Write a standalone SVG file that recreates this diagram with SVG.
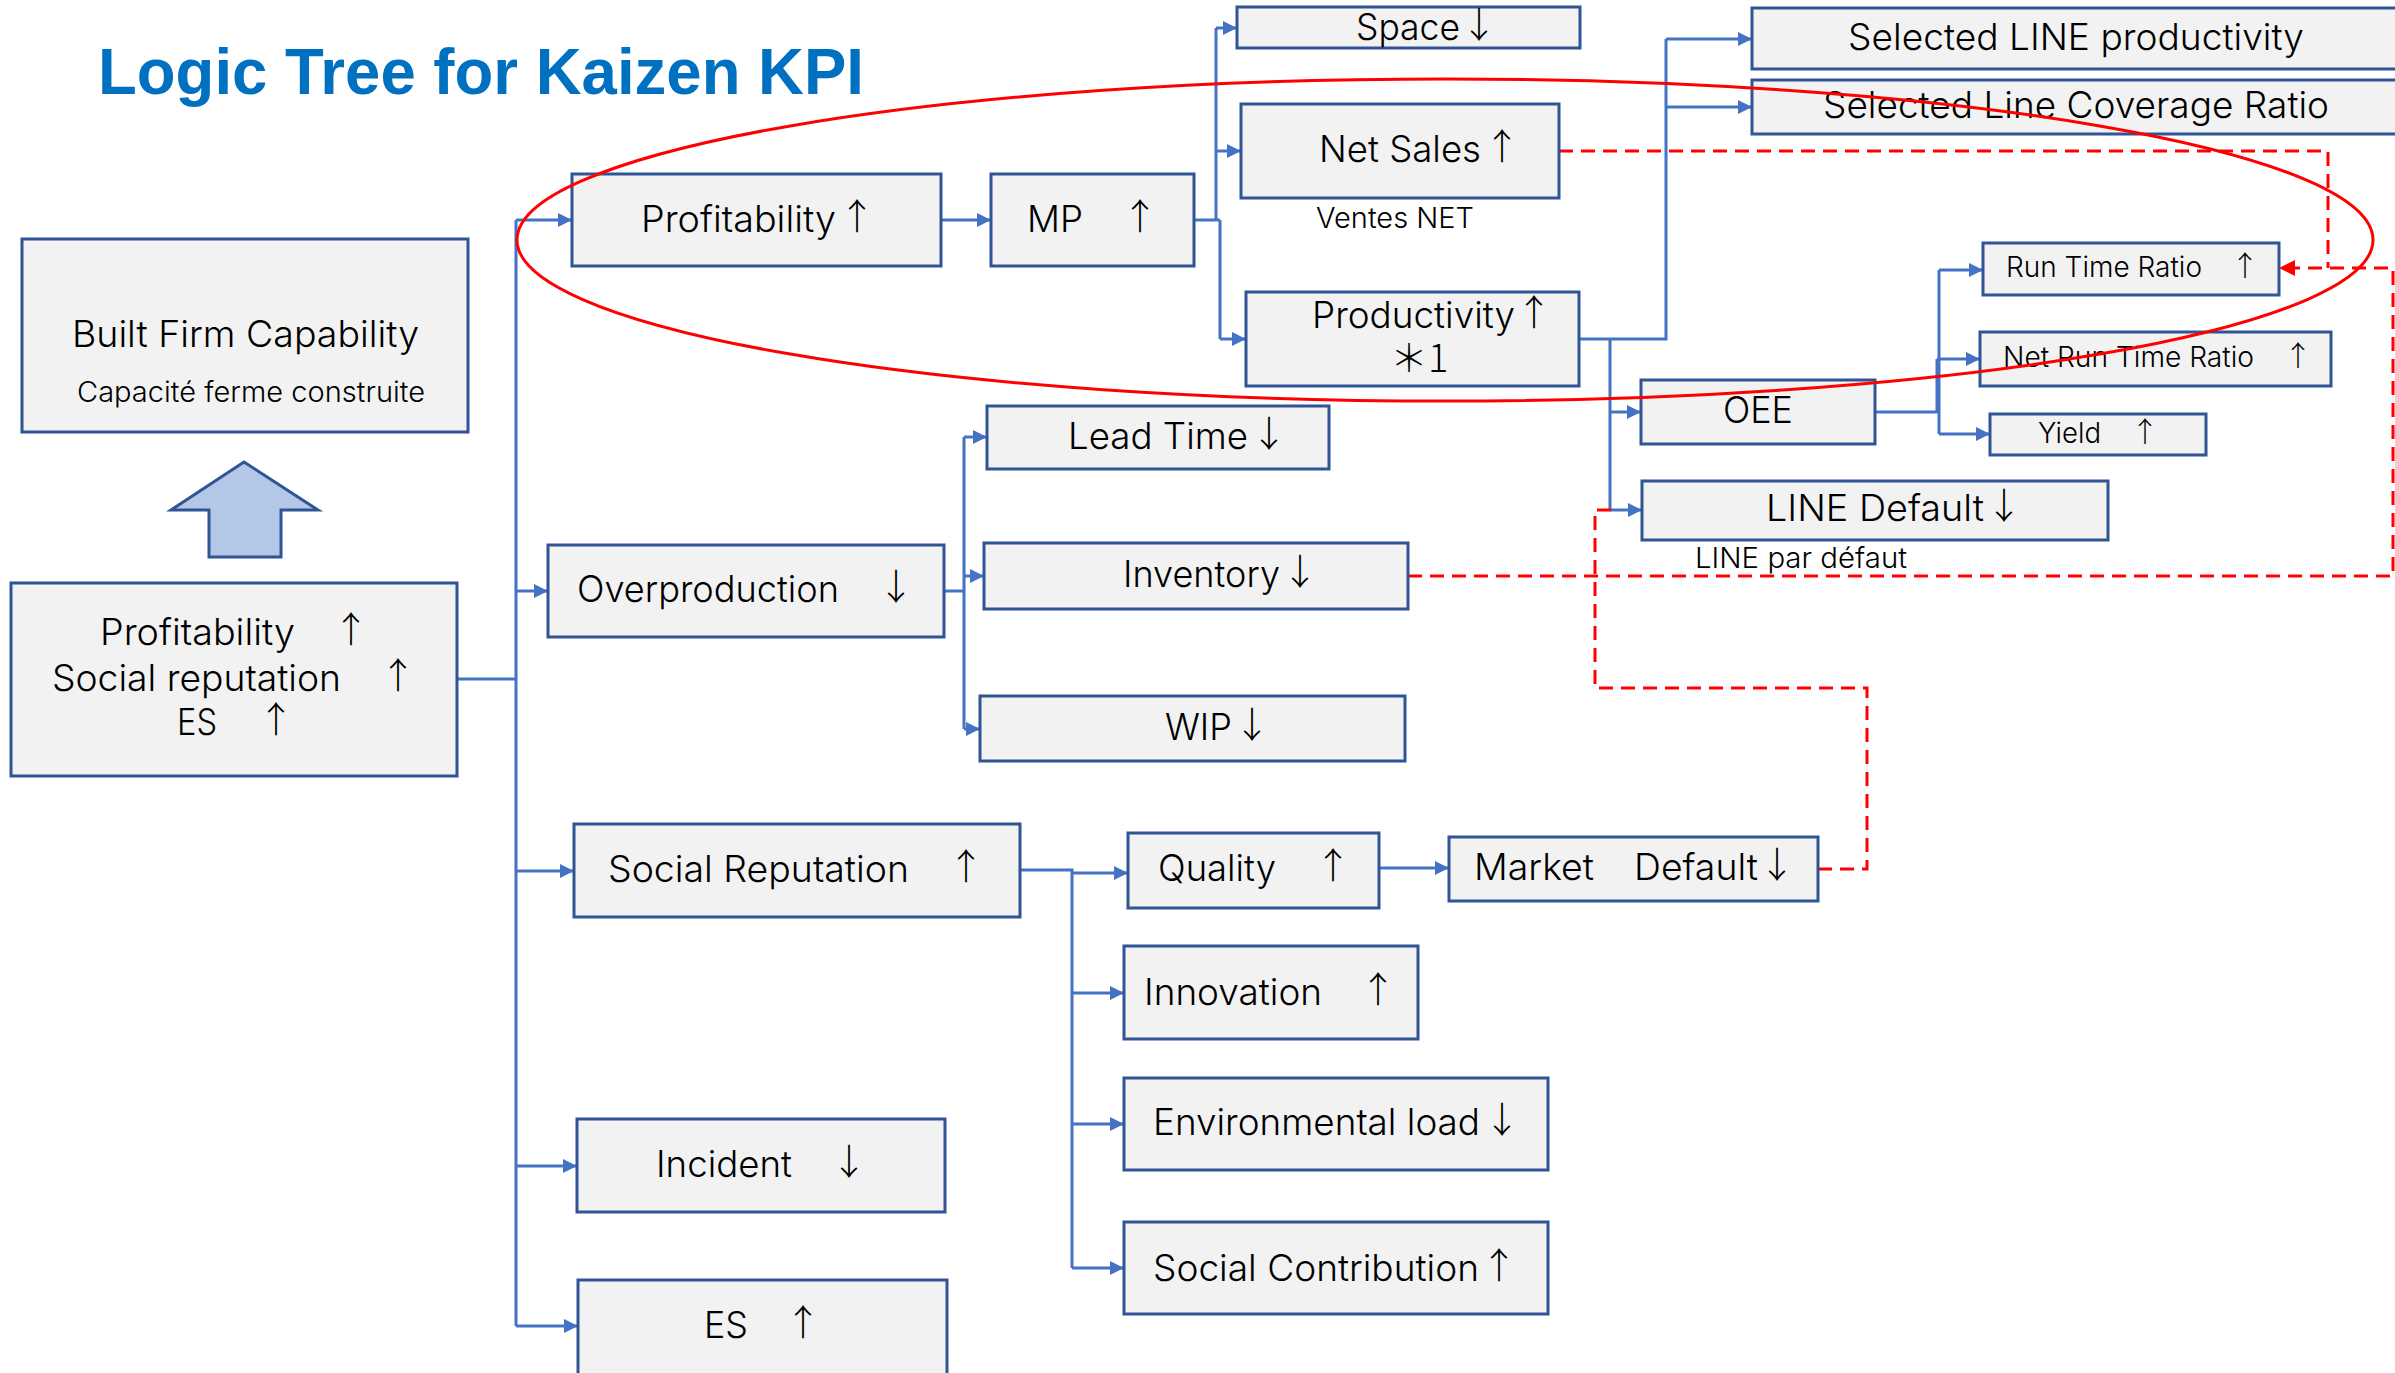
<svg xmlns="http://www.w3.org/2000/svg" width="2395" height="1373" viewBox="0 0 2395 1373">
<defs>
<marker id="ab" markerUnits="userSpaceOnUse" viewBox="0 0 14 14" refX="14" refY="7" markerWidth="14" markerHeight="14" orient="auto"><path d="M0,0L14,7L0,14z" fill="#4472C4"/></marker>
<marker id="arr" markerUnits="userSpaceOnUse" viewBox="0 0 16 16" refX="16" refY="8" markerWidth="16" markerHeight="16" orient="auto"><path d="M0,0L16,8L0,16z" fill="#FF0000"/></marker>
<style>
.box{fill:#F2F2F2;stroke:#2F5597;stroke-width:3}
.t{font-family:Inter,"Liberation Sans",Arial,sans-serif;font-weight:300;font-size:37px;fill:#000}
.s{font-family:Inter,"Liberation Sans",Arial,sans-serif;font-weight:300;font-size:28px;fill:#000}
.a{font-family:"Noto Sans CJK JP","DejaVu Sans",sans-serif;font-weight:300;font-size:36px;fill:#000;text-anchor:middle}
.as{font-family:"Noto Sans CJK JP","DejaVu Sans",sans-serif;font-weight:300;font-size:28px;fill:#000;text-anchor:middle}
.c{fill:none;stroke:#4472C4;stroke-width:3}
.ca{fill:none;stroke:#4472C4;stroke-width:3;marker-end:url(#ab)}
.d{fill:none;stroke:#FF0000;stroke-width:3;stroke-dasharray:14 8}
</style>
</defs>
<rect x="0" y="0" width="2395" height="1373" fill="#FFFFFF"/>
<text x="98" y="94" font-family="Liberation Sans, Arial, sans-serif" font-weight="bold" font-size="64" fill="#0070C0" textLength="766" lengthAdjust="spacingAndGlyphs">Logic Tree for Kaizen KPI</text>

<g id="connectors">
<path class="c" d="M457,679H516M516,220V1326"/>
<path class="ca" d="M516,220H572"/>
<path class="ca" d="M516,591H548"/>
<path class="ca" d="M516,871H574"/>
<path class="ca" d="M516,1166H577"/>
<path class="ca" d="M516,1326H578"/>
<path class="ca" d="M941,220H991"/>
<path class="c" d="M1194,220H1220M1216,220V28M1220,220V339"/>
<path class="ca" d="M1216,28H1237"/>
<path class="ca" d="M1216,151H1241"/>
<path class="ca" d="M1220,339H1246"/>
<path class="c" d="M1579,339H1666V39M1610,339V510"/>
<path class="ca" d="M1666,39H1752"/>
<path class="ca" d="M1666,107H1752"/>
<path class="ca" d="M1610,412H1641"/>
<path class="ca" d="M1610,510H1642"/>
<path class="c" d="M1875,412H1937V359M1939,270V434"/>
<path class="ca" d="M1937,359H1980"/>
<path class="ca" d="M1939,270H1983"/>
<path class="ca" d="M1939,434H1990"/>
<path class="c" d="M944,591H964M964,437V729"/>
<path class="ca" d="M964,437H987"/>
<path class="ca" d="M964,576H984"/>
<path class="ca" d="M964,729H980"/>
<path class="c" d="M1020,870H1072V1268"/>
<path class="ca" d="M1072,873H1128"/>
<path class="ca" d="M1072,993H1124"/>
<path class="ca" d="M1072,1124H1124"/>
<path class="ca" d="M1072,1268H1124"/>
<path class="ca" d="M1379,868H1449"/>
<path class="d" d="M1559,151H2328V268"/>
<path class="d" d="M1408,576H2393V268H2279" marker-end="url(#arr)"/>
<path class="d" d="M1818,869H1867V688H1595V510H1611"/>
</g>

<g id="goal">
<rect class="box" x="22" y="239" width="446" height="193"/>
<text class="t" x="72" y="347" textLength="347" lengthAdjust="spacingAndGlyphs">Built Firm Capability</text>
<text class="s" x="77" y="402" textLength="348" lengthAdjust="spacingAndGlyphs">Capacité ferme construite</text>
</g>
<g id="up-arrow">
<path d="M244,462L171,510H209V557H281V510H318Z" fill="#B4C7E7" stroke="#2F5597" stroke-width="3"/>
</g>
<g id="root">
<rect class="box" x="11" y="583" width="446" height="193"/>
<text class="t" x="100" y="645" textLength="195" lengthAdjust="spacingAndGlyphs">Profitability</text><text class="a" x="351" y="643">↑</text>
<text class="t" x="52" y="691" textLength="289" lengthAdjust="spacingAndGlyphs">Social reputation</text><text class="a" x="398" y="689">↑</text>
<text class="t" x="177" y="735" textLength="40" lengthAdjust="spacingAndGlyphs">ES</text><text class="a" x="276" y="733">↑</text>
</g>
<g id="profitability">
<rect class="box" x="572" y="174" width="369" height="92"/>
<text class="t" x="641" y="232" textLength="195" lengthAdjust="spacingAndGlyphs">Profitability</text><text class="a" x="857" y="230">↑</text>
</g>
<g id="mp">
<rect class="box" x="991" y="174" width="203" height="92"/>
<text class="t" x="1027" y="232" textLength="56" lengthAdjust="spacingAndGlyphs">MP</text><text class="a" x="1140" y="230">↑</text>
</g>
<g id="space">
<rect class="box" x="1237" y="7" width="343" height="41"/>
<text class="t" x="1356" y="40" textLength="104" lengthAdjust="spacingAndGlyphs">Space</text><text class="a" x="1479" y="38">↓</text>
</g>
<g id="net-sales">
<rect class="box" x="1241" y="104" width="318" height="94"/>
<text class="t" x="1319" y="162" textLength="162" lengthAdjust="spacingAndGlyphs">Net Sales</text><text class="a" x="1502" y="160">↑</text>
<text class="s" x="1316" y="228" textLength="158" lengthAdjust="spacingAndGlyphs">Ventes NET</text>
</g>
<g id="productivity">
<rect class="box" x="1246" y="292" width="333" height="94"/>
<text class="t" x="1312" y="328" textLength="203" lengthAdjust="spacingAndGlyphs">Productivity</text><text class="a" x="1534" y="326">↑</text>
<text x="1390" y="372" font-family="Noto Sans CJK JP, sans-serif" font-weight="300" font-size="38">＊1</text>
</g>
<g id="selected-line-productivity">
<rect class="box" x="1752" y="8" width="660" height="61"/>
<text class="t" x="1848" y="50" textLength="456" lengthAdjust="spacingAndGlyphs">Selected LINE productivity</text>
</g>
<g id="selected-line-coverage">
<rect class="box" x="1752" y="80" width="660" height="54"/>
<text class="t" x="1823" y="118" textLength="506" lengthAdjust="spacingAndGlyphs">Selected Line Coverage Ratio</text>
</g>
<g id="oee">
<rect class="box" x="1641" y="380" width="234" height="64"/>
<text class="t" x="1723" y="423" textLength="70" lengthAdjust="spacingAndGlyphs">OEE</text>
</g>
<g id="run-time-ratio">
<rect class="box" x="1983" y="243" width="296" height="52"/>
<text class="s" x="2006" y="277" textLength="196" lengthAdjust="spacingAndGlyphs">Run Time Ratio</text><text class="as" x="2245" y="276">↑</text>
</g>
<g id="net-run-time-ratio">
<rect class="box" x="1980" y="332" width="351" height="54"/>
<text class="s" x="2003" y="367" textLength="251" lengthAdjust="spacingAndGlyphs">Net Run Time Ratio</text><text class="as" x="2298" y="366">↑</text>
</g>
<g id="yield">
<rect class="box" x="1990" y="414" width="216" height="41"/>
<text class="s" x="2038" y="443" textLength="63" lengthAdjust="spacingAndGlyphs">Yield</text><text class="as" x="2145" y="442">↑</text>
</g>
<g id="line-default">
<rect class="box" x="1642" y="481" width="466" height="59"/>
<text class="t" x="1766" y="521" textLength="218" lengthAdjust="spacingAndGlyphs">LINE Default</text><text class="a" x="2004" y="519">↓</text>
<text class="s" x="1695" y="568" textLength="212" lengthAdjust="spacingAndGlyphs">LINE par défaut</text>
</g>
<g id="overproduction">
<rect class="box" x="548" y="545" width="396" height="92"/>
<text class="t" x="577" y="602" textLength="262" lengthAdjust="spacingAndGlyphs">Overproduction</text><text class="a" x="896" y="600">↓</text>
</g>
<g id="lead-time">
<rect class="box" x="987" y="406" width="342" height="63"/>
<text class="t" x="1068" y="449" textLength="180" lengthAdjust="spacingAndGlyphs">Lead Time</text><text class="a" x="1269" y="447">↓</text>
</g>
<g id="inventory">
<rect class="box" x="984" y="543" width="424" height="66"/>
<text class="t" x="1123" y="587" textLength="157" lengthAdjust="spacingAndGlyphs">Inventory</text><text class="a" x="1300" y="585">↓</text>
</g>
<g id="wip">
<rect class="box" x="980" y="696" width="425" height="65"/>
<text class="t" x="1165" y="740" textLength="67" lengthAdjust="spacingAndGlyphs">WIP</text><text class="a" x="1252" y="738">↓</text>
</g>
<g id="social-reputation">
<rect class="box" x="574" y="824" width="446" height="93"/>
<text class="t" x="608" y="882" textLength="301" lengthAdjust="spacingAndGlyphs">Social Reputation</text><text class="a" x="966" y="880">↑</text>
</g>
<g id="quality">
<rect class="box" x="1128" y="833" width="251" height="75"/>
<text class="t" x="1158" y="881" textLength="118" lengthAdjust="spacingAndGlyphs">Quality</text><text class="a" x="1333" y="879">↑</text>
</g>
<g id="market-default">
<rect class="box" x="1449" y="837" width="369" height="64"/>
<text class="t" x="1474" y="880" textLength="120" lengthAdjust="spacingAndGlyphs">Market</text>
<text class="t" x="1634" y="880" textLength="124" lengthAdjust="spacingAndGlyphs">Default</text><text class="a" x="1777" y="878">↓</text>
</g>
<g id="innovation">
<rect class="box" x="1124" y="946" width="294" height="93"/>
<text class="t" x="1144" y="1005" textLength="178" lengthAdjust="spacingAndGlyphs">Innovation</text><text class="a" x="1378" y="1003">↑</text>
</g>
<g id="environmental-load">
<rect class="box" x="1124" y="1078" width="424" height="92"/>
<text class="t" x="1153" y="1135" textLength="327" lengthAdjust="spacingAndGlyphs">Environmental load</text><text class="a" x="1502" y="1133">↓</text>
</g>
<g id="social-contribution">
<rect class="box" x="1124" y="1222" width="424" height="92"/>
<text class="t" x="1153" y="1281" textLength="326" lengthAdjust="spacingAndGlyphs">Social Contribution</text><text class="a" x="1499" y="1279">↑</text>
</g>
<g id="incident">
<rect class="box" x="577" y="1119" width="368" height="93"/>
<text class="t" x="656" y="1177" textLength="136" lengthAdjust="spacingAndGlyphs">Incident</text><text class="a" x="849" y="1175">↓</text>
</g>
<g id="es">
<rect class="box" x="578" y="1280" width="369" height="110"/>
<text class="t" x="704" y="1338" textLength="44" lengthAdjust="spacingAndGlyphs">ES</text><text class="a" x="803" y="1336">↑</text>
</g>

<g id="highlight">
<ellipse cx="1445" cy="240" rx="928" ry="161" fill="none" stroke="#FF0000" stroke-width="3"/>
</g>
</svg>
